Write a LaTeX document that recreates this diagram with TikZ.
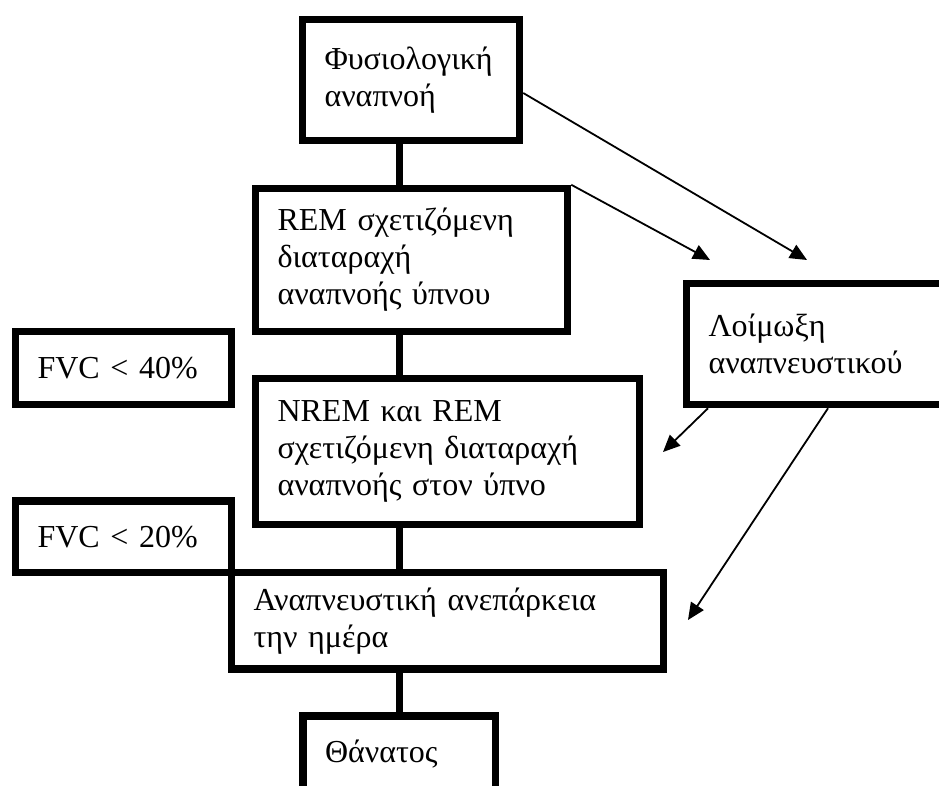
\documentclass[tikz,border=0pt]{standalone}
\usepackage{fontspec}
\setmainfont{Liberation Serif}
\usetikzlibrary{arrows.meta}

\begin{document}
\begin{tikzpicture}[x=1pt,y=-1pt,
  stage/.style={draw,line width=7.5pt,rectangle,outer sep=0pt,anchor=north west,
    inner xsep=22pt,inner ysep=0pt,align=left,font=\fontsize{32}{37}\selectfont},
  link/.style={line width=7.5pt},
  feed/.style={line width=1.8pt,-{Triangle[length=17pt,width=15pt]}}]
\useasboundingbox (0,0) rectangle (939,785);

\node[stage,text width=173pt,minimum height=121pt] (phys) at (302.5,19.5) {Φυσιολογική\\αναπνοή};
\node[stage,text width=268pt,minimum height=143pt] (rem) at (255.5,188.5) {REM σχετιζόμενη\\διαταραχή\\αναπνοής ύπνου};
\node[stage,text width=236pt,minimum height=121pt] (inf) at (686.5,283.5) {Λοίμωξη\\αναπνευστικού};
\node[stage,text width=172pt,minimum height=73pt] (fvc40) at (15.5,331.5) {FVC < 40\%};
\node[stage,text width=340pt,minimum height=146pt] (nrem) at (255.5,378.5) {NREM και REM\\σχετιζόμενη διαταραχή\\αναπνοής στον ύπνο};
\node[stage,text width=172pt,minimum height=71.5pt] (fvc20) at (15.5,501) {FVC < 20\%};
\node[stage,text width=388pt,minimum height=96.5pt] (fail) at (231.5,572.5) {Αναπνευστική ανεπάρκεια\\την ημέρα};
\node[stage,text width=148.5pt,minimum height=76pt] (death) at (303,716) {Θάνατος};

\coordinate (spine) at (399.5,0);
\draw[link] (phys.south -| spine) -- (rem.north -| spine);
\draw[link] (rem.south -| spine) -- (nrem.north -| spine);
\draw[link] (nrem.south -| spine) -- (fail.north -| spine);
\draw[link] (fail.south -| spine) -- (death.north -| spine);

% free arrow ends
\coordinate (tip1) at (807,260);
\coordinate (tip2) at (710,260);
\coordinate (tip3) at (663,452);
\coordinate (tip4) at (688,620);

\draw[feed] ([shift={(3.75,13)}]phys.east) -- (tip1);
\draw[feed] ([shift={(3.75,-3.75)}]rem.north east) -- (tip2);
\draw[feed] ([shift={(21.5,3.75)}]inf.south west) -- (tip3);
\draw[feed] ([shift={(141.5,3.75)}]inf.south west) -- (tip4);

\end{tikzpicture}
\end{document}
